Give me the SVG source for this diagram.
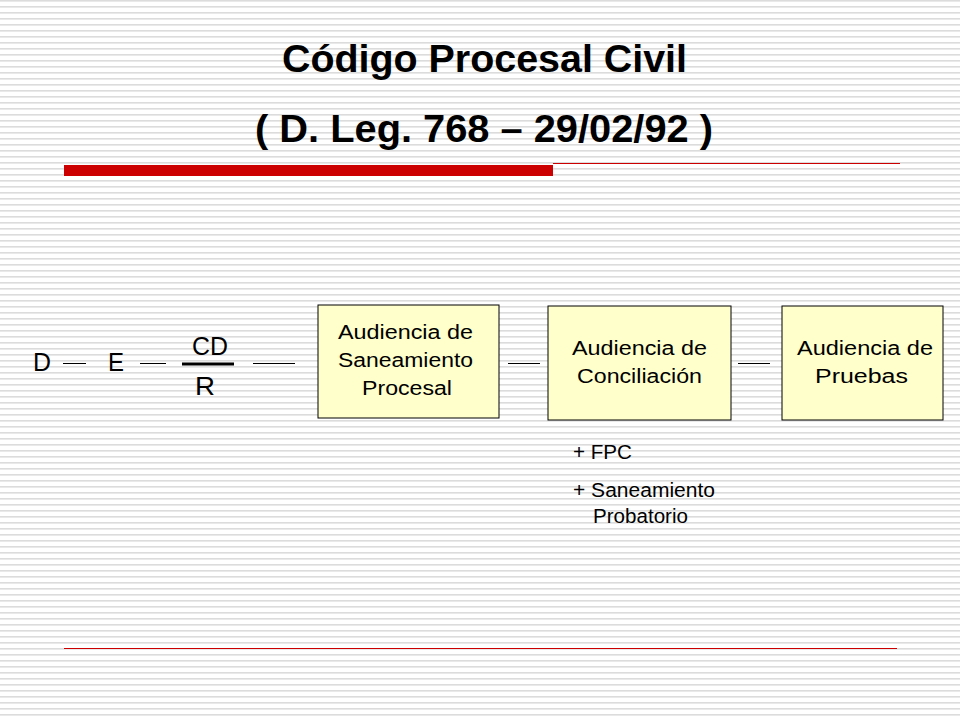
<svg xmlns="http://www.w3.org/2000/svg" width="960" height="720" viewBox="0 0 960 720">
<defs>
<pattern id="stripes" width="8" height="6" patternUnits="userSpaceOnUse">
<rect width="8" height="6" fill="#ffffff"/>
<rect y="0" width="8" height="1.6" fill="#dcdcdc"/>
</pattern>
</defs>
<style>
.t{font-family:"Liberation Sans",Arial,sans-serif;fill:#000}
.b{font-size:20px}
.box{fill:#ffffcc;stroke:#000;stroke-width:1}
.ln{stroke:#000;stroke-width:1}
</style>
<rect width="960" height="720" fill="url(#stripes)"/>
<text class="t" x="282" y="72" font-size="38" font-weight="bold" textLength="405" lengthAdjust="spacingAndGlyphs">Código Procesal Civil</text>
<text class="t" x="255" y="142" font-size="38" font-weight="bold" textLength="458" lengthAdjust="spacingAndGlyphs">( D. Leg. 768 – 29/02/92 )</text>
<line x1="553" y1="163.5" x2="900" y2="163.5" stroke="#cc0000" stroke-width="1"/>
<rect x="64" y="165" width="489" height="11" fill="#cc0000"/>
<line x1="64" y1="648.5" x2="897" y2="648.5" stroke="#cc0000" stroke-width="1"/>
<g id="D"><text class="t" x="33" y="371" font-size="26" textLength="18" lengthAdjust="spacingAndGlyphs">D</text></g>
<g id="E"><text class="t" x="108" y="371" font-size="26" textLength="16" lengthAdjust="spacingAndGlyphs">E</text></g>
<g id="CDR">
<text class="t" x="192" y="355" font-size="26" textLength="36" lengthAdjust="spacingAndGlyphs">CD</text>
<line x1="182" y1="364" x2="234" y2="364" stroke="#000" stroke-width="3"/>
<text class="t" x="195" y="395" font-size="26" textLength="20" lengthAdjust="spacingAndGlyphs">R</text>
</g>
<g id="connectors">
<line class="ln" x1="63" y1="363.5" x2="86" y2="363.5"/>
<line class="ln" x1="140" y1="363.5" x2="166" y2="363.5"/>
<line class="ln" x1="253" y1="363.5" x2="295" y2="363.5"/>
<line class="ln" x1="508" y1="363.5" x2="540" y2="363.5"/>
<line class="ln" x1="738" y1="363.5" x2="770" y2="363.5"/>
</g>
<g id="n1">
<rect class="box" x="318" y="305" width="181" height="113"/>
<text class="t b" x="338" y="339" textLength="135" lengthAdjust="spacingAndGlyphs">Audiencia de</text>
<text class="t b" x="338" y="367" textLength="135" lengthAdjust="spacingAndGlyphs">Saneamiento</text>
<text class="t b" x="362" y="395" textLength="90" lengthAdjust="spacingAndGlyphs">Procesal</text>
</g>
<g id="n2">
<rect class="box" x="548" y="306" width="183" height="114"/>
<text class="t b" x="572" y="355" textLength="135" lengthAdjust="spacingAndGlyphs">Audiencia de</text>
<text class="t b" x="577" y="383" textLength="125" lengthAdjust="spacingAndGlyphs">Conciliación</text>
</g>
<g id="n3">
<rect class="box" x="782" y="306" width="161" height="114"/>
<text class="t b" x="797" y="355" textLength="136" lengthAdjust="spacingAndGlyphs">Audiencia de</text>
<text class="t b" x="815" y="383" textLength="93" lengthAdjust="spacingAndGlyphs">Pruebas</text>
</g>
<g id="notes">
<text class="t b" x="573" y="459" textLength="59" lengthAdjust="spacingAndGlyphs">+ FPC</text>
<text class="t b" x="573" y="497" textLength="142" lengthAdjust="spacingAndGlyphs">+ Saneamiento</text>
<text class="t b" x="593" y="523" textLength="95" lengthAdjust="spacingAndGlyphs">Probatorio</text>
</g>
</svg>
